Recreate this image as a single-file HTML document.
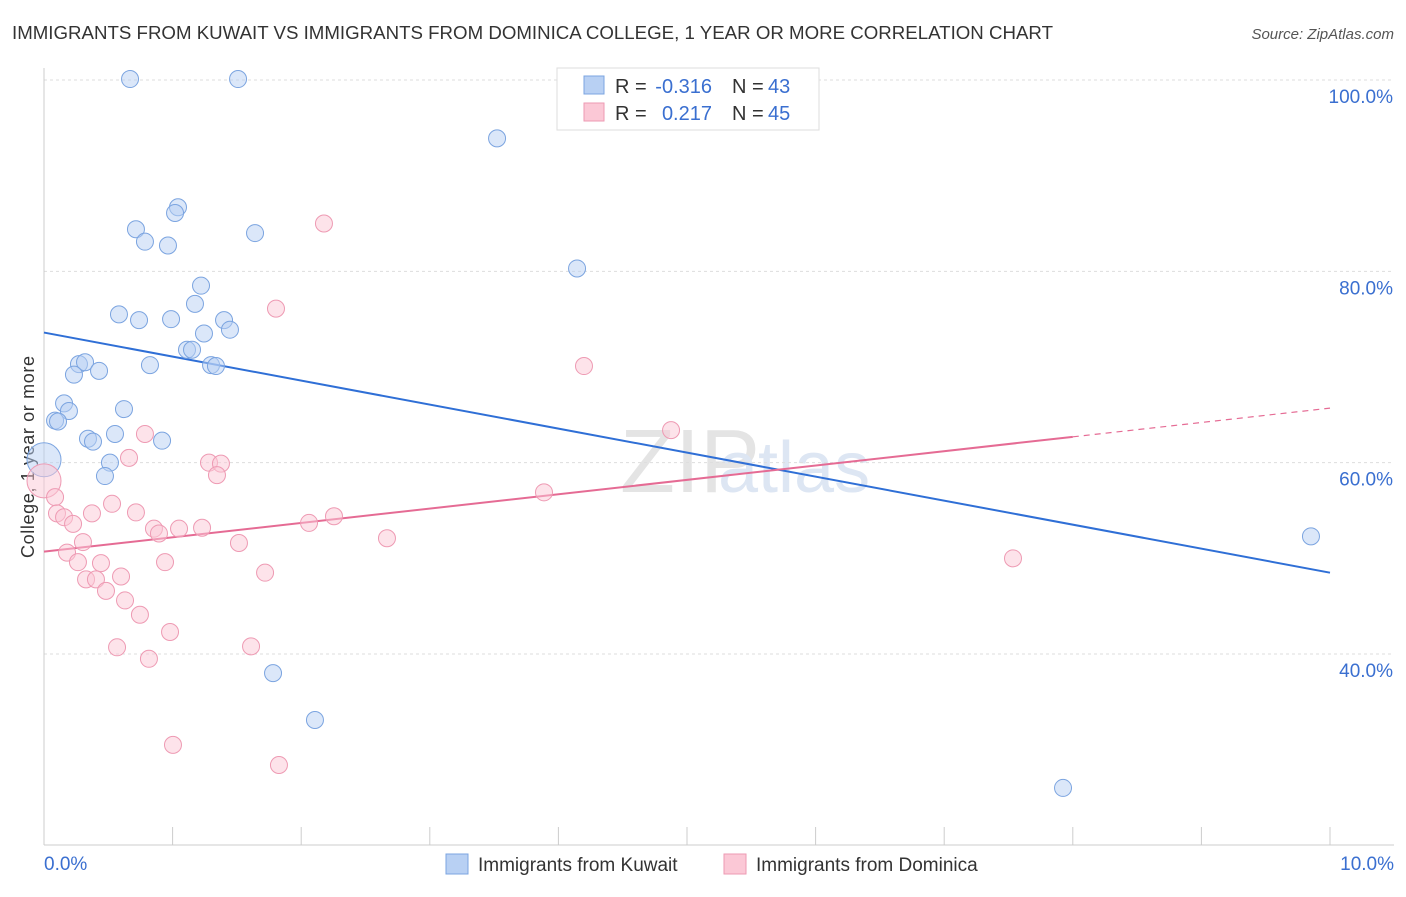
<!DOCTYPE html>
<html><head><meta charset="utf-8"><style>
body{margin:0;background:#fff;font-family:"Liberation Sans",sans-serif;}
svg text{font-family:"Liberation Sans",sans-serif;}
</style></head><body>
<svg id="chart" width="1406" height="892">
<text x="12" y="39" font-size="18" fill="#333" textLength="1041" lengthAdjust="spacingAndGlyphs">IMMIGRANTS FROM KUWAIT VS IMMIGRANTS FROM DOMINICA COLLEGE, 1 YEAR OR MORE CORRELATION CHART</text>
<text x="1394" y="39" font-size="15" fill="#555" text-anchor="end" font-style="italic">Source: ZipAtlas.com</text>
<text x="620" y="492" font-size="90" fill="#e4e4e4" font-family="Liberation Serif">ZIP</text>
<text x="718" y="492" font-size="72" fill="#dde6f3">atlas</text>
<text transform="translate(34,457) rotate(-90)" font-size="18" fill="#333" text-anchor="middle" textLength="202">College, 1 year or more</text>
<g id="grid"></g><g id="axes"></g><g id="trends"></g><g id="points"></g>
<g>
<rect x="557" y="68" width="262" height="62" fill="#fff" stroke="#ddd"/>
<rect x="584" y="76" width="20" height="18" fill="#b8d0f3" stroke="#7ba4e0"/>
<text x="615" y="93" font-size="20" fill="#333">R =</text>
<text x="712" y="93" font-size="20" fill="#3a6fd0" text-anchor="end">-0.316</text>
<text x="732" y="93" font-size="20" fill="#333">N =</text>
<text x="768" y="93" font-size="20" fill="#3a6fd0">43</text>
<rect x="584" y="103" width="20" height="18" fill="#fbc8d6" stroke="#ee9ab3"/>
<text x="615" y="120" font-size="20" fill="#333">R =</text>
<text x="712" y="120" font-size="20" fill="#3a6fd0" text-anchor="end">0.217</text>
<text x="732" y="120" font-size="20" fill="#333">N =</text>
<text x="768" y="120" font-size="20" fill="#3a6fd0">45</text>
</g>
<g>
<rect x="446" y="854" width="22" height="20" fill="#b8d0f3" stroke="#7ba4e0"/>
<text x="478" y="871" font-size="19" fill="#333">Immigrants from Kuwait</text>
<rect x="724" y="854" width="22" height="20" fill="#fbc8d6" stroke="#ee9ab3"/>
<text x="756" y="871" font-size="19" fill="#333">Immigrants from Dominica</text>
</g>
</svg>
<script>
const xTickVals=[0,10];
const xTickLabels=["0.0%","10.0%"];
const yTickVals=[40,60,80,100];
const yTickLabels=["40.0%","60.0%","80.0%","100.0%"];
const kuwaitX=[0.669,1.509,3.523,1.042,1.019,0.715,0.785,0.964,1.641,4.145,1.221,1.174,0.583,0.739,0.988,1.400,1.446,1.244,1.112,1.151,0.824,1.299,1.337,0.272,0.319,0.233,0.428,0.156,0.194,0.622,0.086,0.109,0.552,0.342,0.381,0.918,0.513,0.474,0,9.852,1.781,2.107,7.924];
const kuwaitY=[100.1,100.1,93.9,86.7,86.1,84.4,83.1,82.7,84.0,80.3,78.5,76.6,75.5,74.9,75.0,74.9,73.9,73.5,71.8,71.8,70.2,70.2,70.1,70.3,70.5,69.2,69.6,66.2,65.4,65.6,64.4,64.3,63.0,62.5,62.2,62.3,60.0,58.6,60.3,52.3,38.0,33.1,26.0];
const domX=[2.177,1.804,4.199,4.876,0.785,0.661,1.283,1.376,1.345,0,0.086,0.529,0.715,0.373,0.101,0.156,0.226,0.855,0.894,1.050,1.229,2.061,2.255,1.516,2.667,3.888,0.303,0.179,0.264,0.941,0.443,0.599,1.719,0.327,0.404,0.482,0.630,0.746,0.980,0.568,1.610,0.816,7.535,1.003,1.827];
const domY=[85.0,76.1,70.1,63.4,63.0,60.5,60.0,59.9,58.7,58.1,56.4,55.7,54.8,54.7,54.7,54.3,53.6,53.1,52.6,53.1,53.2,53.7,54.4,51.6,52.1,56.9,51.7,50.6,49.6,49.6,49.5,48.1,48.5,47.8,47.8,46.6,45.6,44.1,42.3,40.7,40.8,39.5,50.0,30.5,28.4];
const kuwaitTrend=[73.6,48.5];
const domTrend=[50.7,65.7];
const domSolidEnd=8.0;

const NS="http://www.w3.org/2000/svg";
const X0=44,X1=1330,Y100=80,Y40=654;
const sx=v=>X0+(X1-X0)*v/10;
const sy=v=>Y100+(100-v)*(Y40-Y100)/60;
function mk(tag,attrs,parent){const e=document.createElementNS(NS,tag);for(const k in attrs)e.setAttribute(k,attrs[k]);document.getElementById(parent).appendChild(e);return e;}
yTickVals.forEach((v,i)=>{
  const g=mk('line',{x1:X0,x2:1394,y1:sy(v),y2:sy(v),stroke:'#ddd','stroke-dasharray':'3,3'},'grid');
  
  
  const t=mk('text',{x:1393,y:sy(v)+23,'font-size':19,fill:'#3a6fd0','text-anchor':'end'},'axes');
  t.textContent=yTickLabels[i];
  
  
});
const ax=mk('line',{x1:X0,x2:X0,y1:68,y2:845,stroke:'#ccc'},'axes');


const bx=mk('line',{x1:X0,x2:1394,y1:845,y2:845,stroke:'#ccc'},'axes');


for(let i=0;i<=10;i++){
  const tk=mk('line',{x1:sx(i),x2:sx(i),y1:827,y2:845,stroke:'#ccc'},'axes');
  
  
}
xTickVals.forEach((v,i)=>{
  const t=mk('text',{x:v===0?44:1394,y:870,'font-size':19,fill:'#3a6fd0','text-anchor':v===0?'start':'end'},'axes');
  t.textContent=xTickLabels[i];
  
  
});
function pts(xs,ys,fill,stroke,name){
  xs.forEach((x,i)=>{
    const big=(x===0);
    const c=mk('circle',{cx:sx(x),cy:sy(ys[i]),r:big?17:8.5,fill:fill,'fill-opacity':0.5,stroke:stroke,'stroke-width':1},'points');
    
    
  });
}
pts(kuwaitX,kuwaitY,'#b8d0f3','#7ba4e0','kuwait-point');
pts(domX,domY,'#fbc8d6','#ee9ab3','dominica-point');
const kl=mk('line',{x1:sx(0),y1:sy(kuwaitTrend[0]),x2:sx(10),y2:sy(kuwaitTrend[1]),stroke:'#2f6fd6','stroke-width':2},'trends');


const dAt=v=>domTrend[0]+(domTrend[1]-domTrend[0])*v/10;
const dl=mk('line',{x1:sx(0),y1:sy(dAt(0)),x2:sx(domSolidEnd),y2:sy(dAt(domSolidEnd)),stroke:'#e56b94','stroke-width':2},'trends');


const dd=mk('line',{x1:sx(domSolidEnd),y1:sy(dAt(domSolidEnd)),x2:sx(10),y2:sy(dAt(10)),stroke:'#e56b94','stroke-width':1.2,'stroke-dasharray':'6,5'},'trends');


</script>
</body></html>
